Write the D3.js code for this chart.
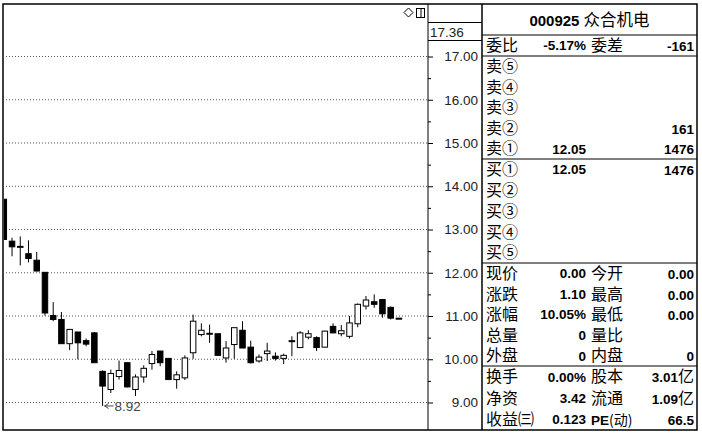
<!DOCTYPE html>
<html>
<head>
<meta charset="utf-8">
<script src="https://cdn.jsdelivr.net/npm/d3@7"></script>
<style>
  body { margin: 0; background: #fff; }
  svg { display: block; }
  .price-axis text { font-family: "Liberation Sans", Arial, sans-serif; font-size: 13.5px; fill: #222; }
  .price-axis path { display: none; }
  .price-axis line { stroke: #000; }
  .cjk { font-family: "Noto Sans CJK SC", sans-serif; font-size: 16px; fill: #000; }
  .num { font-family: "Liberation Sans", Arial, sans-serif; font-size: 13.5px; font-weight: bold; fill: #000; }
</style>
</head>
<body>
<svg width="702" height="434"></svg>
<script>
// daily candles, left to right (first one is cut by the left border)
const opens  = [13.70, 12.73, 12.59, 12.44, 12.29, 12.01, 11.01, 10.92, 10.36, 10.63, 10.43, 10.61, 9.72, 9.30, 9.60, 9.92, 9.30, 9.59, 9.90, 10.19,
                10.02, 9.53, 9.57, 10.15, 10.57, 10.59, 10.59, 10.03, 10.34, 10.67, 10.28, 9.96, 10.13, 10.07, 10.02, 10.42, 10.27, 10.51, 10.50, 10.28,
                10.76, 10.59, 10.53, 10.82, 11.23, 11.33, 11.38, 11.20, 10.95]
const highs  = [13.70, 12.81, 12.84, 12.75, 12.48, 12.01, 11.32, 11.09, 10.70, 10.63, 10.48, 10.63, 9.74, 9.76, 9.97, 9.93, 9.65, 9.86, 10.19, 10.19,
                10.02, 9.72, 10.09, 11.03, 10.83, 10.80, 10.59, 10.42, 10.73, 10.88, 10.43, 10.11, 10.38, 10.16, 10.13, 10.53, 10.65, 10.67, 10.53, 10.66,
                10.83, 10.79, 11.00, 11.29, 11.46, 11.50, 11.38, 11.22, 10.95]
const lows   = [12.77, 12.38, 12.17, 12.24, 12.03, 11.01, 10.88, 10.36, 10.21, 10.00, 10.30, 9.92, 8.92, 9.22, 9.53, 9.35, 9.15, 9.46, 9.76, 9.84,
                9.53, 9.32, 9.52, 10.01, 10.53, 10.38, 10.09, 9.92, 10.01, 10.26, 9.90, 9.92, 9.96, 9.97, 9.89, 10.07, 10.27, 10.46, 10.19, 10.27,
                10.60, 10.53, 10.48, 10.74, 11.15, 11.19, 10.96, 10.92, 10.95]
const closes = [12.77, 12.60, 12.61, 12.33, 12.04, 11.07, 10.92, 10.36, 10.69, 10.38, 10.35, 9.92, 9.38, 9.67, 9.74, 9.36, 9.59, 9.79, 10.11, 9.92,
                9.53, 9.64, 10.03, 10.88, 10.67, 10.60, 10.09, 10.26, 10.73, 10.26, 9.92, 10.05, 10.19, 10.02, 10.09, 10.43, 10.61, 10.59, 10.27, 10.65,
                10.61, 10.66, 10.84, 11.27, 11.37, 11.27, 11.05, 10.95, 10.95]

const priceTicks = [9, 10, 11, 12, 13, 14, 15, 16, 17]
const halfTicks = [9.5, 10.5, 11.5, 12.5, 13.5, 14.5, 15.5, 16.5]
const topPrice = '17.36'
const lowMark = '8.92'

const title = '000925 众合机电'
const ratioLabels = ['委比', '委差']
const ratioValues = ['-5.17%', '-161']
const bookLabels = ['卖⑤', '卖④', '卖③', '卖②', '卖①', '买①', '买②', '买③', '买④', '买⑤']
const bookPrices = ['', '', '', '', '12.05', '12.05', '', '', '', '']
const bookVolumes = ['', '', '', '161', '1476', '1476', '', '', '', '']
const quoteLabelsA = ['现价', '涨跌', '涨幅', '总量', '外盘']
const quoteValuesA = ['0.00', '1.10', '10.05%', '0', '0']
const quoteLabelsB = ['今开', '最高', '最低', '量比', '内盘']
const quoteValuesB = ['0.00', '0.00', '0.00', '', '0']
const infoLabelsA = ['换手', '净资', '收益㈢']
const infoValuesA = ['0.00%', '3.42', '0.123']
const infoLabelsB = ['股本', '流通', 'PE']
const infoValuesB = ['3.01', '1.09', '66.5']
const infoUnitsB = ['亿', '亿', '']

const svg = d3.select('svg')
const frameTop = 4, frameBottom = 430, frameLeft = 3, frameRight = 697
const axisX = 428, panelX = 482

const x = d3.scaleLinear().domain([0, opens.length - 1]).range([3.8, 398.9])
const y = d3.scaleLinear().domain([9, 17]).range([402.5, 56.5])

// grid
svg.append('g').selectAll('line').data(priceTicks).join('line')
    .attr('x1', frameLeft + 3).attr('x2', axisX)
    .attr('y1', d => y(d)).attr('y2', d => y(d))
    .attr('stroke', '#555').attr('stroke-dasharray', '1,2')

// candles
svg.append('clipPath').attr('id', 'plot')
    .append('rect').attr('x', frameLeft + 1).attr('y', frameTop).attr('width', axisX - frameLeft - 1).attr('height', frameBottom - frameTop)

const candles = svg.append('g').attr('clip-path', 'url(#plot)')
    .selectAll('g').data(d3.range(opens.length)).join('g')
const bw = 5.5

candles.append('line')
    .attr('x1', i => x(i)).attr('x2', i => x(i))
    .attr('y1', i => y(highs[i])).attr('y2', i => y(lows[i]))
    .attr('stroke', '#000')

candles.append('rect')
    .attr('x', i => x(i) - bw / 2)
    .attr('width', bw)
    .attr('y', i => y(Math.max(opens[i], closes[i])))
    .attr('height', i => Math.max(1, Math.abs(y(opens[i]) - y(closes[i]))))
    .attr('fill', i => closes[i] > opens[i] ? '#fff' : '#000')
    .attr('stroke', '#000').attr('stroke-width', 1)

// lowest price marker
const lowIdx = lows.indexOf(d3.min(lows))
const lx = x(lowIdx) + 2, ly = y(+lowMark)
svg.append('path')
    .attr('d', `M${lx},${ly} l4,-2.5 M${lx},${ly} l4,2.5 M${lx},${ly} h9`)
    .attr('stroke', '#444').attr('fill', 'none')
svg.append('text')
    .attr('x', lx + 10).attr('y', ly).attr('dy', '0.35em')
    .style('font-family', '"Liberation Sans", Arial, sans-serif').style('font-size', '13.5px').attr('fill', '#444')
    .text(lowMark)

// price axis
const axis = svg.append('g').attr('class', 'price-axis')
    .attr('transform', `translate(${axisX}, 0)`)
    .call(d3.axisRight(y).tickValues(priceTicks).tickSize(5).tickFormat(d3.format('.2f')))
axis.selectAll('text').attr('x', 50).attr('text-anchor', 'end')
svg.append('g').attr('class', 'price-axis')
    .attr('transform', `translate(${axisX}, 0)`)
    .call(d3.axisRight(y).tickValues(halfTicks).tickSize(3).tickFormat(''))

svg.append('text').attr('x', axisX + 2).attr('y', 32).attr('dy', '0.35em')
    .style('font-family', '"Liberation Sans", Arial, sans-serif').style('font-size', '13.5px').attr('fill', '#222')
    .text(topPrice)

// frames
const frame = svg.append('g').attr('stroke', '#000').attr('fill', 'none')
frame.append('rect').attr('x', frameLeft).attr('y', frameTop)
    .attr('width', frameRight - frameLeft).attr('height', frameBottom - frameTop).attr('stroke-width', 1.5)
frame.append('line').attr('x1', axisX).attr('x2', axisX).attr('y1', frameTop).attr('y2', frameBottom)
frame.append('line').attr('x1', panelX).attr('x2', panelX).attr('y1', frameTop).attr('y2', frameBottom).attr('stroke-width', 1.5)
frame.append('line').attr('x1', axisX).attr('x2', panelX).attr('y1', 22.5).attr('y2', 22.5)
frame.append('line').attr('x1', axisX).attr('x2', panelX).attr('y1', 40.5).attr('y2', 40.5)
const sepY = [35, 56, 159, 263, 366]
sepY.forEach(s => frame.append('line').attr('x1', panelX).attr('x2', frameRight).attr('y1', s).attr('y2', s).attr('stroke-width', 1.2))

// little icons
frame.append('path').attr('d', 'M408.5,8 l4.5,4.5 l-4.5,4.5 l-4.5,-4.5 Z')
frame.append('rect').attr('x', 416.5).attr('y', 8.5).attr('width', 8).attr('height', 9)
frame.append('line').attr('x1', 421).attr('x2', 421).attr('y1', 8.5).attr('y2', 17.5)

// right panel
const labX = 486, valX = 586, lab2X = 591, val2X = 694

function row(cy, lab, val, lab2, val2, unit) {
    const g = svg.append('g')
    g.append('text').attr('class', 'cjk').attr('x', labX).attr('y', cy).attr('dy', '0.36em').text(lab)
    if (val) g.append('text').attr('class', 'num').attr('x', valX).attr('y', cy).attr('dy', '0.36em')
        .attr('text-anchor', 'end').text(val)
    if (lab2) {
        const t = g.append('text').attr('x', lab2X).attr('y', cy).attr('dy', '0.36em')
        if (lab2 === 'PE') {
            t.append('tspan').attr('class', 'num').text('PE')
            t.append('tspan').attr('class', 'cjk').style('font-size', '14px').text('(动)')
        } else {
            t.attr('class', 'cjk').text(lab2)
        }
    }
    if (val2 || unit) {
        const t = g.append('text').attr('x', val2X).attr('y', cy).attr('dy', '0.36em').attr('text-anchor', 'end')
        t.append('tspan').attr('class', 'num').text(val2)
        if (unit) t.append('tspan').attr('class', 'cjk').text(unit)
    }
}

svg.append('text').attr('x', (panelX + frameRight) / 2).attr('y', 20).attr('dy', '0.36em')
    .attr('text-anchor', 'middle')
    .call(t => t.append('tspan').attr('class', 'num').style('font-size', '15px').text(title.split(' ')[0] + ' '))
    .call(t => t.append('tspan').attr('class', 'cjk').style('font-size', '16.5px').text(title.split(' ')[1]))

row(45.5, ratioLabels[0], ratioValues[0], ratioLabels[1], ratioValues[1])

function section(y0, y1, n) {
    const h = (y1 - y0) / n
    return d3.range(n).map(i => y0 + h * (i + 0.5))
}
const bookY = section(56, 159, 5).concat(section(159, 263, 5))
bookLabels.forEach((l, i) => row(bookY[i], l, bookPrices[i], '', bookVolumes[i]))

const quoteY = section(263, 366, 5)
quoteLabelsA.forEach((l, i) => row(quoteY[i], l, quoteValuesA[i], quoteLabelsB[i], quoteValuesB[i]))

const infoY = section(366, frameBottom, 3)
infoLabelsA.forEach((l, i) => row(infoY[i], l, infoValuesA[i], infoLabelsB[i], infoValuesB[i], infoUnitsB[i]))
</script>
</body>
</html>
